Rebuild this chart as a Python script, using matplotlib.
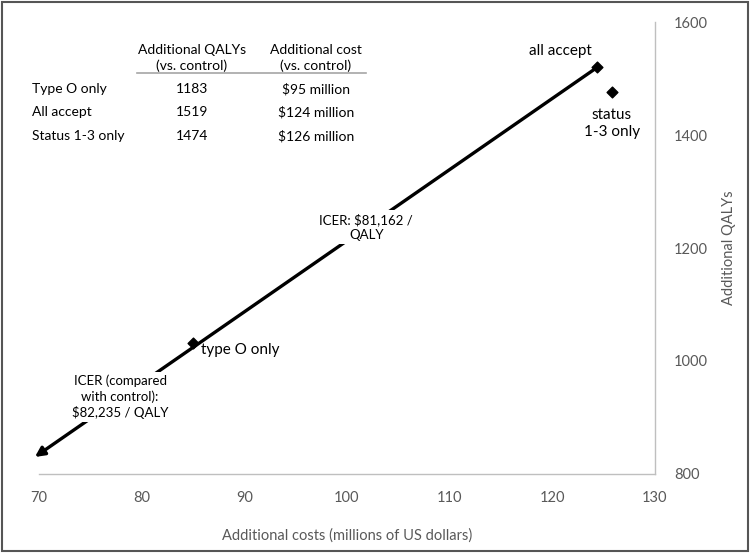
import matplotlib.pyplot as plt
from matplotlib.patches import Rectangle

plt.rcParams['font.family'] = ['Lato', 'DejaVu Sans']

# scenario points (cost in $M, QALYs) as plotted
point_names = ["type O only", "all accept", "status\n1-3 only"]
point_cost = [85.0, 124.4, 125.8]
point_qaly = [1032, 1520, 1476]

# ICER line: from "all accept" back to the lower-left arrow tip
line_cost = [124.4, 69.6]
line_qaly = [1520, 830]

# inset table
table_rows = ["Type O only", "All accept", "Status 1-3 only"]
table_qalys = ["1183", "1519", "1474"]
table_costs = ["$95 million", "$124 million", "$126 million"]
table_headers = ["Additional QALYs\n(vs. control)", "Additional cost\n(vs. control)"]

x_ticks = [70, 80, 90, 100, 110, 120, 130]
y_ticks = [800, 1000, 1200, 1400, 1600]

axis_grey = "#bfbfbf"
label_grey = "#595959"

fig = plt.figure(figsize=(7.5, 5.53), dpi=100)
ax = fig.add_axes([0.052, 0.143, 0.821, 0.817])

ax.annotate("", xy=(line_cost[1], line_qaly[1]), xytext=(line_cost[0], line_qaly[0]),
            arrowprops=dict(arrowstyle="-|>", lw=2.4, color="black",
                            mutation_scale=14, shrinkA=0, shrinkB=0),
            annotation_clip=False, zorder=2)
ax.scatter(point_cost, point_qaly, marker="D", s=30, color="black", zorder=3)

ax.set_xlim(70, 130)
ax.set_ylim(800, 1600)
ax.set_xticks(x_ticks)
ax.set_yticks(y_ticks)
ax.yaxis.tick_right()
ax.yaxis.set_label_position("right")
for side in ["top", "left"]:
    ax.spines[side].set_visible(False)
for side in ["bottom", "right"]:
    ax.spines[side].set_color(axis_grey)
    ax.spines[side].set_linewidth(1.0)
ax.tick_params(length=0, labelsize=10.5, colors=label_grey)
ax.tick_params(axis="x", pad=12)
ax.tick_params(axis="y", pad=14)
ax.set_xlabel("Additional costs (millions of US dollars)", fontsize=10.5,
              color=label_grey, labelpad=17)
ax.set_ylabel("Additional QALYs", fontsize=10.5, color=label_grey, labelpad=10)

# point labels
ax.text(point_cost[0] + 0.8, point_qaly[0] - 12, point_names[0], fontsize=11,
        ha="left", va="center")
ax.text(point_cost[1] - 3.6, point_qaly[1] + 28, point_names[1], fontsize=11,
        ha="center", va="center")
ax.text(point_cost[2], point_qaly[2] - 55, point_names[2], fontsize=11,
        ha="center", va="center", linespacing=1.3)

# ICER labels sit on the line, masking it with a white box
box = dict(facecolor="white", edgecolor="none", pad=2)
ax.text(101.9, 1237, "ICER: $81,162 /\nQALY", fontsize=9.5, ha="center",
        va="center", bbox=box, zorder=4, linespacing=1.3)
ax.text(77.9, 936, "ICER (compared\nwith control):\n$82,235 / QALY", fontsize=9.5,
        ha="center", va="center", bbox=box, zorder=4, linespacing=1.3)

# inset table (figure coordinates)
col_x = [192 / 750, 316 / 750]
for cx, head in zip(col_x, table_headers):
    fig.text(cx, 1 - 58 / 553, head, fontsize=10, ha="center", va="center",
             linespacing=1.3)
fig.add_artist(plt.Line2D([137 / 750, 366 / 750], [1 - 73 / 553] * 2,
                          color="#a6a6a6", lw=1.2))
row_y = [89, 112, 136]
for ry, name, q, c in zip(row_y, table_rows, table_qalys, table_costs):
    fig.text(32 / 750, 1 - ry / 553, name, fontsize=10, ha="left", va="center")
    fig.text(col_x[0], 1 - ry / 553, q, fontsize=10, ha="center", va="center")
    fig.text(col_x[1], 1 - ry / 553, c, fontsize=10, ha="center", va="center")

fig.add_artist(Rectangle((0.003, 0.004), 0.994, 0.992, transform=fig.transFigure,
                         fill=False, edgecolor="#555555", lw=1.5))

fig.savefig("out.png", dpi=100)
